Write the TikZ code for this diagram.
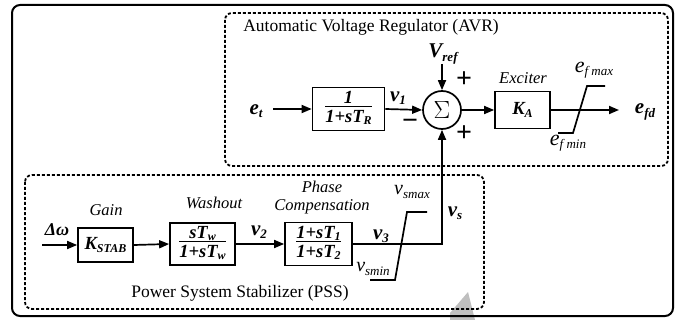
\documentclass[tikz,border=0pt]{standalone}
\usepackage{fontspec}
\setmainfont{Liberation Serif}
\usetikzlibrary{arrows.meta}
\newcommand\sbs[1]{\raisebox{-0.35ex}{\fontsize{13}{14}\selectfont #1}}
\newcommand\sbf[1]{\raisebox{-0.3ex}{\fontsize{12}{13}\selectfont #1}}
\newcommand\sbp[1]{\raisebox{-0.35ex}{\fontsize{13}{14}\selectfont #1}}
\newcommand\fr[2]{\begin{tabular}{@{}c@{}}#1\\[-3pt]\hline\rule{0pt}{16pt}#2\end{tabular}}
\begin{document}
\begin{tikzpicture}[x=1pt,y=-1pt,
  blk/.style={draw, line width=1.7pt, inner sep=0pt, font=\fontsize{18.5}{19}\selectfont\bfseries\itshape},
  arr/.style={line width=1.7pt, -{Triangle[length=10pt,width=8pt]}},
  ln/.style={line width=1.7pt},
  dbox/.style={line width=1.8pt, dash pattern=on 3pt off 2pt, rounded corners=7pt},
  lab/.style={inner sep=0pt, font=\fontsize{21}{23}\selectfont\bfseries\itshape},
  itl/.style={inner sep=0pt, font=\fontsize{16.5}{18}\selectfont\itshape},
  ttl/.style={inner sep=0pt, font=\fontsize{17.5}{20}\selectfont},
  sgn/.style={inner sep=0pt, text height=9pt, text depth=0pt, font=\fontsize{28}{30}\selectfont\bfseries}]
\useasboundingbox (0,0) rectangle (676,320);
% grey artifact
\fill[gray!50] (468,292) -- (475,320) -- (450,320) -- (450,313) -- cycle;
% frames
\draw[line width=2pt, rounded corners=8pt] (12,5) rectangle (673,316);
\draw[dbox] (225,13) rectangle (668,166);
\draw[dbox] (25,175) rectangle (484,309);
% titles
\node[ttl] (avrt) at (371,27) {Automatic Voltage Regulator (AVR)};
\node[ttl] (psst) at (240,293) {Power System Stabilizer (PSS)};
% AVR
\node[lab] (et) at (256,111) {e\sbs{t}};
\coordinate (etin) at (273,109);
\node[blk, minimum width=72pt, minimum height=43pt] (tr) at (348.5,109) {\fr{1}{1+sT\sbf{R}}};
\node[circle, draw, line width=1.7pt, minimum size=38pt, inner sep=0pt] (sum) at (442,110) {\fontsize{31}{32}\selectfont$\Sigma$};
\node[lab] (v1) at (398,98) {v\sbs{1}};
\node[lab] (vref) at (443,54) {V\sbs{ref}};
\coordinate (vrefin) at (442,64);
\node[sgn] (pl1) at (464,83) {+};
\node[sgn] (pl2) at (464,137) {+};
\node[sgn] (mn) at (410,125) {−};
\node[itl] (exc) at (523,78) {Exciter};
\node[blk, minimum width=55pt, minimum height=37pt] (ka) at (522.5,110) {K\sbf{A}};
\coordinate (efdend) at (619,110);
\node[lab] (efd) at (645,112) {e\sbs{fd}};
\draw[ln] (558,133) -- (573,133) -- (587,86) -- (605,86);
\node[inner sep=0pt, font=\fontsize{22}{24}\selectfont\itshape] (efmax) at (594,70) {e\sbp{f max}};
\node[inner sep=0pt, font=\fontsize{22}{24}\selectfont\itshape] (efmin) at (568,143) {e\sbp{f min}};
\draw[arr] (etin) -- (tr.west);
\draw[arr] (tr.east) -- (sum.west);
\draw[arr] (vrefin) -- (sum.north);
\draw[arr] (sum.east) -- (ka.west);
\draw[arr] (ka.east) -- (efdend);
% PSS
\node[inner sep=0pt, font=\fontsize{18}{20}\selectfont\bfseries\itshape] (dw) at (57,230) {Δω};
\coordinate (dwin) at (42,245);
\node[blk, minimum width=55pt, minimum height=34pt] (ks) at (105.5,245) {K\sbf{STAB}};
\node[itl] (gain) at (106,210) {Gain};
\node[blk, minimum width=65pt, minimum height=42pt] (wo) at (202.5,244) {\fr{sT\sbf{w}}{1+sT\sbf{w}}};
\node[itl] (wot) at (214,203) {Washout};
\node[lab] (v2) at (259,232) {v\sbs{2}};
\node[blk, minimum width=67pt, minimum height=43pt] (ph) at (318.5,244) {\fr{1+sT\sbf{1}}{1+sT\sbf{2}}};
\node[itl] (pht1) at (322,187) {Phase};
\node[itl] (pht2) at (322,207) {Compensation};
\node[lab] (v3) at (381,236) {v\sbs{3}};
\draw[ln] (370,280) -- (395,280) -- (407,212) -- (427,212);
\node[inner sep=0pt, font=\fontsize{20}{22}\selectfont\itshape] (vsmax) at (412,192) {v\sbp{smax}};
\node[inner sep=0pt, font=\fontsize{20}{22}\selectfont\itshape] (vsmin) at (373,269) {v\sbp{smin}};
\node[lab] (vs) at (455,213) {v\sbs{s}};
\draw[arr] (dwin) -- (ks.west);
\draw[arr] (ks.east) -- (wo.west);
\draw[arr] (wo.east) -- (ph.west);
\draw[arr] (ph.east) -- (sum.south |- ph.east) -- (sum.south);
\end{tikzpicture}
\end{document}
